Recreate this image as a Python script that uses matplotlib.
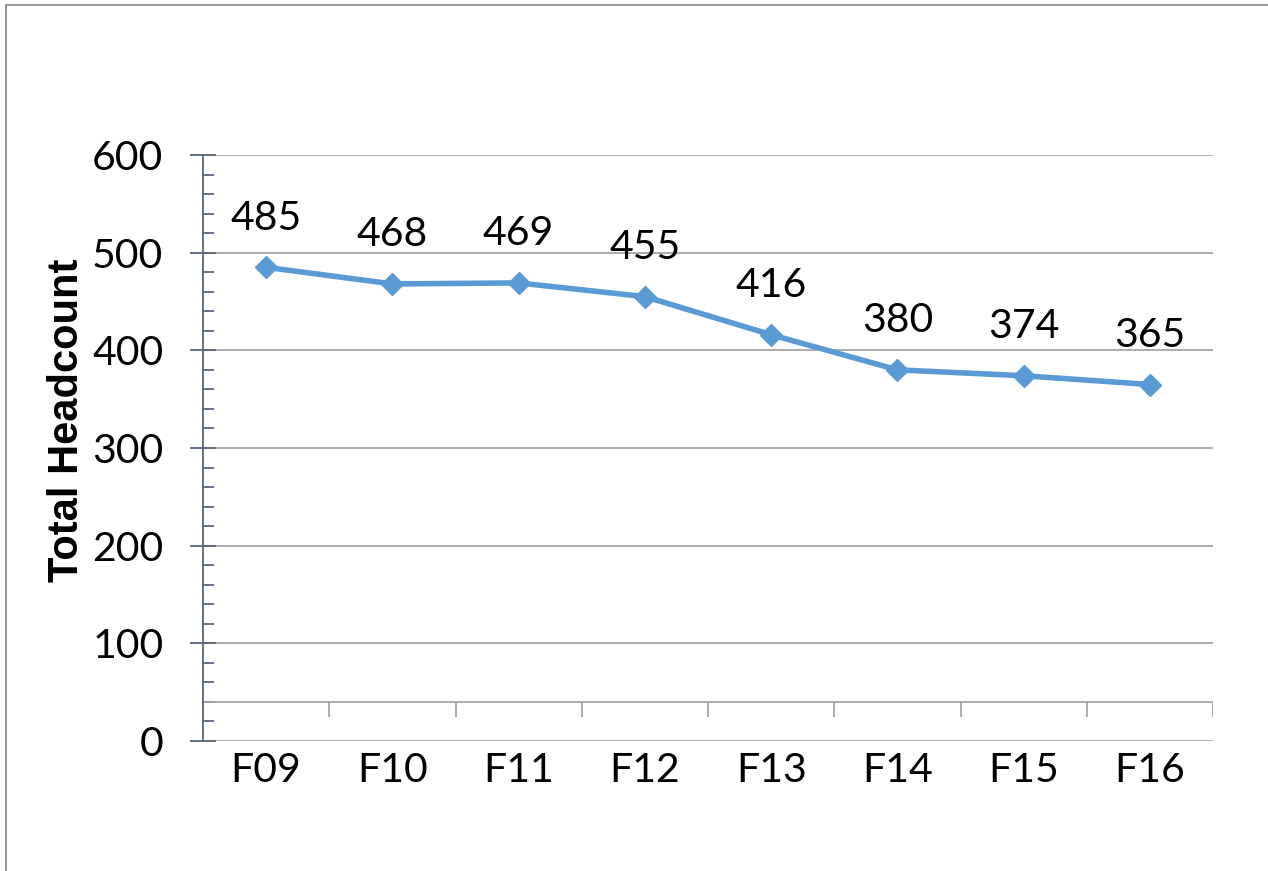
import matplotlib.pyplot as plt
from matplotlib.patches import Rectangle
from matplotlib.ticker import MultipleLocator

years = ['F09', 'F10', 'F11', 'F12', 'F13', 'F14', 'F15', 'F16']
headcount = [485, 468, 469, 455, 416, 380, 374, 365]
y_ticks = [0, 100, 200, 300, 400, 500, 600]

line_color = '#5b9bd5'
grid_color = '#a6a6a6'
axis_color = '#56657c'
font = 'Lato'

fig = plt.figure(figsize=(12.68, 8.71), dpi=100)
ax = fig.add_axes([203 / 1268, 1 - 741 / 871, 1010 / 1268, 586 / 871])

x = list(range(len(years)))
ax.plot(x, headcount, color=line_color, lw=4, marker='D', ms=11,
        solid_joinstyle='round', zorder=3)

# data labels above the points
for xi, v in zip(x, headcount):
    ax.annotate(str(v), (xi, v), xytext=(0, 49), textcoords='offset pixels',
                ha='center', va='center', fontsize=29.5, family=font)

ax.set_xlim(-0.5, len(years) - 0.5)
ax.set_ylim(0, 600)
ax.set_yticks(y_ticks)
ax.yaxis.set_minor_locator(MultipleLocator(20))
ax.yaxis.grid(True, which='major', color=grid_color, lw=1.3)
ax.set_axisbelow(True)

for s in ['top', 'right', 'bottom']:
    ax.spines[s].set_visible(False)
ax.spines['left'].set_color(axis_color)
ax.spines['left'].set_linewidth(1.3)

ax.tick_params(axis='y', which='major', direction='inout', length=19, width=1.3,
               color=axis_color, pad=19, labelsize=29.5)
ax.tick_params(axis='y', which='minor', direction='in', length=8, width=1.3,
               color=axis_color)
for lab in ax.get_yticklabels():
    lab.set_family(font)

ax.set_xticks(x)
ax.set_xticklabels(years, fontsize=29.5, family=font)
ax.tick_params(axis='x', length=0, pad=8)

# horizontal axis line crossing at 40 with category boundary ticks
ax.axhline(40, color=grid_color, lw=1.3, zorder=2)
bounds = [i + 0.5 for i in range(len(years))]
ax.vlines(bounds, 25, 40, color=grid_color, lw=1.3, zorder=2)

fig.text(67 / 1268, 1 - 420 / 871, 'Total Headcount', rotation=90,
         ha='center', va='center', fontsize=30, fontweight='bold',
         family='Liberation Sans')

# outer chart frame
fig.patches.append(Rectangle((6 / 1268, -0.1), 2, 1.1 - 5 / 871, fill=False,
                             edgecolor='#8c8c8c', lw=1.3,
                             transform=fig.transFigure))

fig.savefig('out.png', dpi=100)
